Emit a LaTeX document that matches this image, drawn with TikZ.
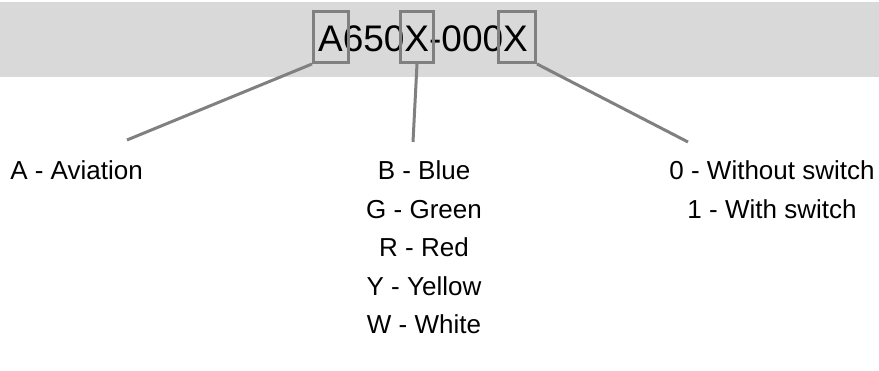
\documentclass[tikz,border=0pt]{standalone}
\usepackage{fontspec}
\setmainfont{Liberation Sans}
\usetikzlibrary{positioning}
\definecolor{bandgray}{HTML}{D9D9D9}
\definecolor{markgray}{HTML}{808080}

\begin{document}
\begin{tikzpicture}[x=1pt,y=-1pt,
  selbox/.style={draw=markgray,line width=3pt,minimum height=51pt,inner sep=0pt},
  lead/.style={draw=markgray,line width=3pt},
  lbl/.style={font=\fontsize{26}{31}\selectfont,inner sep=0pt,anchor=base}]
\useasboundingbox (0,0) rectangle (879,371);
\fill[bandgray] (0,2) rectangle (879,77);
\node[font=\fontsize{37}{44}\selectfont,inner sep=0pt,anchor=base] (code) at (423,52) {A650X-000X};
\node[selbox,minimum width=35pt] (bA) at (331,37) {};
\node[selbox,minimum width=33pt] (bX) at (417,37) {};
\node[selbox,minimum width=37pt] (bS) at (517,37) {};
\coordinate (eA) at (127,140);
\coordinate (eX) at (413,142);
\coordinate (eS) at (688,142);
\draw[lead] (bA.south west) -- (eA);
\draw[lead] (bX.south) -- (eX);
\draw[lead] (bS.south east) -- (eS);
\node[lbl] (avi) at (76.5,180) {A - Aviation};
\foreach \t [count=\i] in {B - Blue,G - Green,R - Red,Y - Yellow,W - White}
  \node[lbl] (col\i) at (424,180+38.5*\i-38.5) {\t};
\node[lbl] (sw0) at (772,180) {0 - Without switch};
\node[lbl] (sw1) at (772,218.5) {1 - With switch};
\end{tikzpicture}
\end{document}
